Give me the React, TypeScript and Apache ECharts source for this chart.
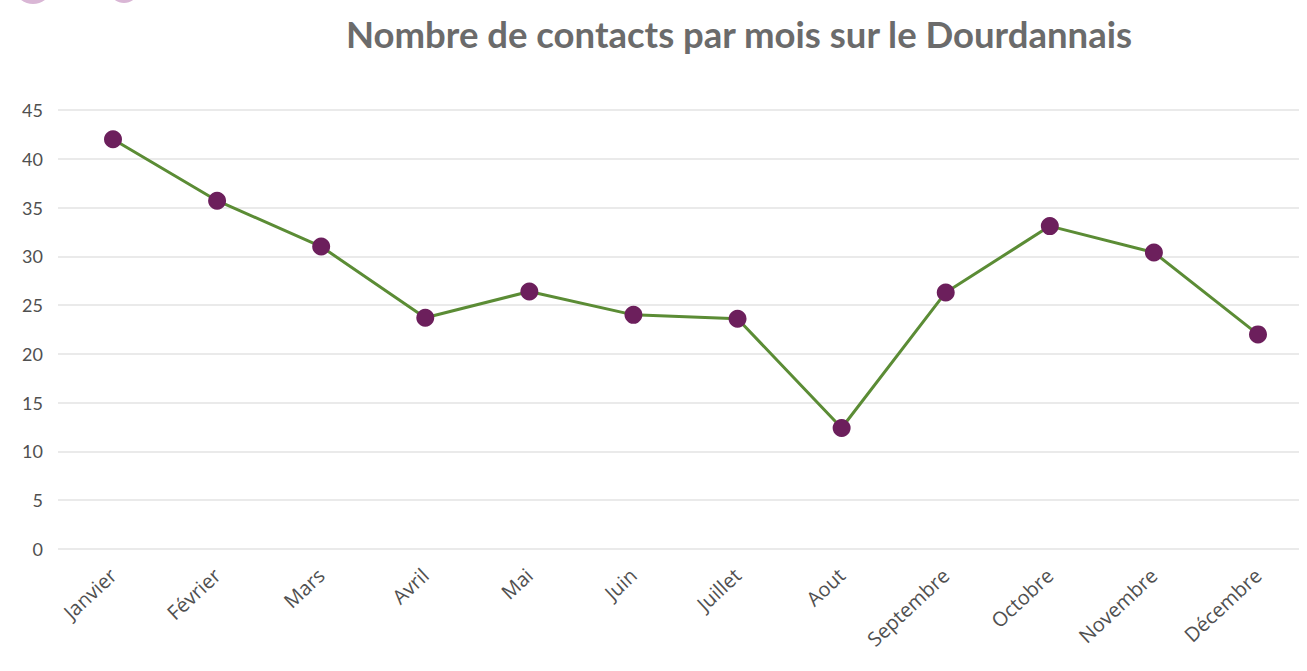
import React, { useEffect, useRef } from "react";
import * as echarts from "echarts";

const months = ["Janvier", "Février", "Mars", "Avril", "Mai", "Juin", "Juillet", "Aout", "Septembre", "Octobre", "Novembre", "Décembre"];
const contacts = [42.0, 35.7, 31.0, 23.7, 26.4, 24.0, 23.6, 12.4, 26.3, 33.1, 30.4, 22.0];
const yMin = 0;
const yMax = 45;
const yStep = 5;

export default function App() {
  const ref = useRef<HTMLDivElement>(null);
  useEffect(() => {
    const chart = echarts.init(ref.current!, null, { renderer: "svg" });
    chart.setOption({
      animation: false,
      backgroundColor: "#ffffff",
      title: {
        text: "Nombre de contacts par mois sur le Dourdannais",
        left: 734,
        top: 10,
        textAlign: "center",
        textStyle: { fontFamily: "Lato", fontWeight: "bold", fontSize: 36.5, color: "#6b6b6b" },
      },
      graphic: [
        { type: "ellipse", shape: { cx: 33, cy: -24, rx: 23, ry: 28 }, style: { fill: "#d9b6d5" } },
        { type: "ellipse", shape: { cx: 124, cy: -24, rx: 20, ry: 27 }, style: { fill: "#d9b6d5" } },
      ],
      grid: [
        { left: 58, right: 8, top: 110, bottom: 122 },
        { left: 113, right: 49, top: 110, bottom: 122 },
      ],
      xAxis: [
        { type: "category", gridIndex: 0, data: months, show: false },
        {
          type: "category",
          gridIndex: 1,
          data: months,
          boundaryGap: false,
          axisLine: { show: false },
          axisTick: { show: false },
          axisLabel: {
            rotate: 43,
            margin: 23,
            interval: 0,
            fontFamily: "'Open Sans', sans-serif",
            fontSize: 20,
            color: "#505050",
          },
        },
      ],
      yAxis: [
        {
          type: "value",
          gridIndex: 0,
          min: yMin,
          max: yMax,
          interval: yStep,
          axisLine: { show: false },
          axisTick: { show: false },
          splitLine: { lineStyle: { color: "#e3e3e3", width: 1.5 } },
          axisLabel: { margin: 15, fontFamily: "Lato", fontSize: 18, color: "#505050" },
        },
        {
          type: "value",
          gridIndex: 1,
          min: yMin,
          max: yMax,
          interval: yStep,
          show: false,
        },
      ],
      series: [
        {
          type: "line",
          xAxisIndex: 1,
          yAxisIndex: 1,
          data: contacts,
          symbol: "circle",
          symbolSize: 18,
          lineStyle: { color: "#5b8c35", width: 3 },
          itemStyle: { color: "#6c1f5c" },
        },
      ],
    });
    return () => chart.dispose();
  }, []);
  return <div ref={ref} style={{ position: "fixed", left: 0, top: 0, width: 1307, height: 671 }} />;
}
